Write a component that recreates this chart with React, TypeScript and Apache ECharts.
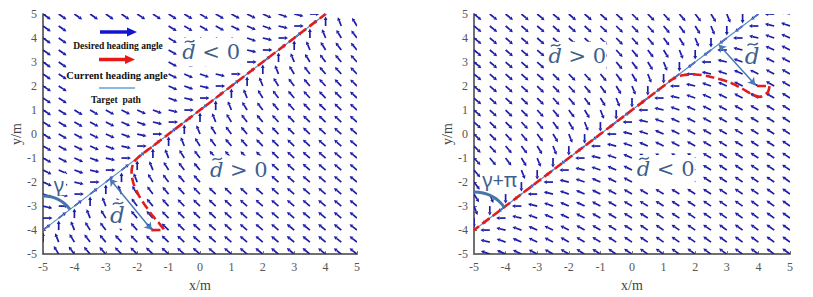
import React, { useEffect, useRef } from "react";
import * as echarts from "echarts";

// grid of sample points of the vector field (both axes)
const gridValues = [-5, -4.5, -4, -3.5, -3, -2.5, -2, -1.5, -1, -0.5, 0, 0.5, 1, 1.5, 2, 2.5, 3, 3.5, 4, 4.5, 5];
const tickLabels = ["-5", "-4", "-3", "-2", "-1", "0", "1", "2", "3", "4", "5"];
// deviation (deg) of the desired heading from the path heading, per half-step diagonal offset from the path
const deviationDeg = [0, 45, 62, 70, 75, 78, 80, 82, 83, 84, 85, 86, 86, 87, 87, 87, 88, 88, 88, 88, 89, 89, 89];
const leftPathHeading = 45;
const rightPathHeading = 225;
const targetPath = [[-5, -4], [4, 5]];
const leftTrajectory = [
  [-1.55, -4.0], [-1.15, -3.98], [-1.3, -3.72], [-1.5, -3.42], [-1.72, -3.02], [-1.95, -2.55],
  [-2.12, -2.05], [-2.18, -1.6], [-2.12, -1.2], [-1.95, -0.95], [-1.5, -0.5], [-1, 0], [0, 1],
  [1, 2], [2, 3], [3, 4], [4, 5],
];
const rightTrajectory = [
  [3.95, 2.0], [4.35, 2.0], [4.3, 1.75], [4.05, 1.55], [3.8, 1.65], [3.5, 1.88], [3.1, 2.15],
  [2.5, 2.38], [2.0, 2.48], [1.6, 2.45], [1.3, 2.3], [1.0, 2.0], [0, 1], [-1, 0], [-2, -1],
  [-3, -2], [-4, -3], [-5, -4],
];
const leftOffsetArrow = [[-2.87, -1.87], [-1.54, -3.99]];
const rightOffsetArrow = [[2.75, 3.72], [3.9, 2.05]];

const leftNotes = [
  { x: 0.33, y: 3.42, kind: "big", rest: "< 0" },
  { x: 1.21, y: -1.48, kind: "big", rest: "> 0" },
  { x: -2.64, y: -3.36, kind: "d", rest: "" },
  { x: -4.49, y: -2.09, kind: "g", rest: "\u03b3" },
];
const rightNotes = [
  { x: -1.76, y: 3.26, kind: "big", rest: "> 0" },
  { x: 1.04, y: -1.46, kind: "big", rest: "< 0" },
  { x: 3.79, y: 3.26, kind: "d", rest: "" },
  { x: -4.19, y: -1.91, kind: "g", rest: "\u03b3+\u03c0" },
];

const ARROW = "#1c1ca8";
const NOTE = "#3d5f8c";
const PATHC = "#4f8cc9";

function buildField(heading: number, sideSign: number) {
  const b = targetPath[0][1] - targetPath[0][0];
  const out: number[][] = [];
  for (const x of gridValues) {
    for (const y of gridValues) {
      const k = Math.round(2 * (x - y + b));
      const dev = deviationDeg[Math.min(Math.abs(k), deviationDeg.length - 1)];
      out.push([x, y, heading + sideSign * Math.sign(k) * dev]);
    }
  }
  return out;
}

function quiverSeries(idx: number, data: number[][]) {
  return {
    type: "custom",
    xAxisIndex: idx,
    yAxisIndex: idx,
    clip: true,
    z: 2,
    data,
    renderItem: (params: any, api: any) => {
      const x = api.value(0);
      const y = api.value(1);
      const a = (api.value(2) * Math.PI) / 180;
      const p0 = api.coord([x, y]);
      const pd = api.coord([x + 0.1 * Math.cos(a), y + 0.1 * Math.sin(a)]);
      const dx = pd[0] - p0[0];
      const dy = pd[1] - p0[1];
      const len = Math.hypot(dx, dy) || 1;
      const ux = dx / len;
      const uy = dy / len;
      const L = 9.5;
      const p1 = [p0[0] + ux * L, p0[1] + uy * L];
      const hl = 3.4;
      const hw = 1.9;
      const base = [p1[0] - ux * hl, p1[1] - uy * hl];
      return {
        type: "group",
        children: [
          {
            type: "line",
            shape: { x1: p0[0], y1: p0[1], x2: base[0], y2: base[1] },
            style: { stroke: ARROW, lineWidth: 1.7 },
          },
          {
            type: "polygon",
            shape: {
              points: [p1, [base[0] - uy * hw, base[1] + ux * hw], [base[0] + uy * hw, base[1] - ux * hw]],
            },
            style: { fill: ARROW },
          },
        ],
      };
    },
  };
}

function arcSeries(idx: number, radius: number) {
  return {
    type: "custom",
    xAxisIndex: idx,
    yAxisIndex: idx,
    clip: false,
    z: 6,
    data: [targetPath[0]],
    renderItem: (params: any, api: any) => {
      const c = api.coord(targetPath[0]);
      const e = api.coord(targetPath[1]);
      const ang = Math.atan2(e[1] - c[1], e[0] - c[0]);
      return {
        type: "arc",
        shape: { cx: c[0], cy: c[1], r: radius, startAngle: -Math.PI / 2, endAngle: ang, clockwise: true },
        style: { stroke: "#4676a8", lineWidth: 3, fill: "none" },
      };
    },
  };
}

function notesSeries(idx: number, notes: any[]) {
  return {
    type: "custom",
    xAxisIndex: idx,
    yAxisIndex: idx,
    clip: false,
    z: 8,
    data: notes.map((n, i) => [n.x, n.y, i]),
    renderItem: (params: any, api: any) => {
      const n = notes[api.value(2)];
      const p = api.coord([api.value(0), api.value(1)]);
      const children: any[] = [];
      const italic = (x: number, y: number, size: number) => {
        const s = size / 21;
        const a = x + 2.5 * s;
        const y0 = y - 10.5 * s;
        return [
          {
            type: "text",
            x,
            y,
            style: {
              text: "d",
              font: `italic ${size}px 'DejaVu Serif'`,
              fill: NOTE,
              align: "left",
              verticalAlign: "middle",
            },
          },
          {
            type: "bezierCurve",
            shape: {
              x1: a,
              y1: y0 + 1.2 * s,
              cpx1: a + 3 * s,
              cpy1: y0 - 3.2 * s,
              cpx2: a + 6 * s,
              cpy2: y0 + 3.4 * s,
              x2: a + 9.5 * s,
              y2: y0 - 1.2 * s,
            },
            style: { stroke: NOTE, lineWidth: 1.4, fill: "none" },
          },
        ];
      };
      if (n.kind === "big") {
        const W = 56;
        const left = p[0] - W / 2;
        children.push({ type: "rect", shape: { x: left - 2, y: p[1] - 14, width: W + 4, height: 28 }, style: { fill: "#ffffff" } });
        children.push(...italic(left, p[1], 21));
        children.push({
          type: "text",
          x: left + 20,
          y: p[1],
          style: { text: n.rest, font: "21px 'DejaVu Serif'", fill: NOTE, align: "left", verticalAlign: "middle" },
        });
      } else if (n.kind === "d") {
        children.push({ type: "rect", shape: { x: p[0] - 9, y: p[1] - 15, width: 18, height: 29 }, style: { fill: "#ffffff" } });
        children.push(...italic(p[0] - 7, p[1], 23));
      } else {
        const W = n.rest.length > 1 ? 36 : 14;
        children.push({ type: "rect", shape: { x: p[0] - W / 2, y: p[1] - 11, width: W, height: 22 }, style: { fill: "#ffffff" } });
        children.push({
          type: "text",
          x: p[0],
          y: p[1],
          style: { text: n.rest, font: "20px 'Noto Sans'", fill: NOTE, align: "center", verticalAlign: "middle" },
        });
      }
      return { type: "group", children };
    },
  };
}

function axisCommon(i: number, name: string, isY: boolean) {
  return {
    gridIndex: i,
    type: "value",
    min: -5,
    max: 5,
    interval: 1,
    name,
    nameLocation: "middle",
    nameGap: isY ? 19 : 21,
    nameTextStyle: { fontFamily: "Liberation Serif", fontSize: 14, color: "#444" },
    axisLine: { show: true, onZero: false, lineStyle: { color: "#707070", width: 2 } },
    axisTick: { show: true, inside: true, length: 3, lineStyle: { color: "#707070" } },
    splitLine: { show: false },
    axisLabel: {
      fontFamily: "Liberation Serif",
      fontSize: 12,
      color: "#555",
      margin: isY ? 6 : 7,
      formatter: (v: number, k: number) => tickLabels[k] ?? String(v),
    },
  };
}

export default function App() {
  const ref = useRef<HTMLDivElement>(null);
  useEffect(() => {
    if (!ref.current) return;
    const chart = echarts.init(ref.current, null, { renderer: "svg" });
    const legendFont = "bold 9.5px 'Liberation Serif'";
    chart.setOption({
      animation: false,
      backgroundColor: "#ffffff",
      grid: [
        { left: 43, top: 14, width: 314, height: 244 },
        { left: 474, top: 14, width: 316, height: 244 },
      ],
      xAxis: [axisCommon(0, "x/m", false), axisCommon(1, "x/m", false)],
      yAxis: [axisCommon(0, "y/m", true), axisCommon(1, "y/m", true)],
      series: [
        quiverSeries(0, buildField(leftPathHeading, 1)),
        quiverSeries(1, buildField(rightPathHeading, -1)),
        ...[0, 1].map((i) => ({
          type: "line",
          xAxisIndex: i,
          yAxisIndex: i,
          data: targetPath,
          symbol: "none",
          z: 3,
          lineStyle: { color: PATHC, width: 1.1 },
        })),
        {
          type: "line",
          xAxisIndex: 0,
          yAxisIndex: 0,
          data: leftTrajectory,
          symbol: "none",
          smooth: 0.3,
          z: 4,
          lineStyle: { color: "#e01e1e", width: 2.6, type: [9, 4] },
        },
        {
          type: "line",
          xAxisIndex: 1,
          yAxisIndex: 1,
          data: rightTrajectory,
          symbol: "none",
          smooth: 0.3,
          z: 4,
          lineStyle: { color: "#e01e1e", width: 2.6, type: [9, 4] },
        },
        ...[
          [0, leftOffsetArrow],
          [1, rightOffsetArrow],
        ].map(([i, c]: any) => ({
          type: "lines",
          coordinateSystem: "cartesian2d",
          xAxisIndex: i,
          yAxisIndex: i,
          z: 7,
          symbol: ["arrow", "arrow"],
          symbolSize: 7,
          lineStyle: { color: "#4a7ab5", width: 1.5, opacity: 1 },
          data: [{ coords: c }],
        })),
        arcSeries(0, 34),
        arcSeries(1, 38),
        notesSeries(0, leftNotes),
        notesSeries(1, rightNotes),
      ],
      graphic: [
        { type: "rect", z: 100, shape: { x: 68, y: 21, width: 98, height: 88 }, style: { fill: "#ffffff" } },
        { type: "line", z: 101, shape: { x1: 100, y1: 32, x2: 128, y2: 32 }, style: { stroke: "#1515d0", lineWidth: 3.5 } },
        { type: "polygon", z: 101, shape: { points: [[137, 32], [127, 27.5], [127, 36.5]] }, style: { fill: "#1515d0" } },
        { type: "text", z: 101, x: 118, y: 45.5, style: { text: "Desired heading angle", font: legendFont, fill: "#111", align: "center", verticalAlign: "middle" } },
        { type: "line", z: 101, shape: { x1: 99, y1: 59.5, x2: 126, y2: 59.5 }, style: { stroke: "#e81818", lineWidth: 3.5 } },
        { type: "polygon", z: 101, shape: { points: [[135, 59.5], [125, 55], [125, 64]] }, style: { fill: "#e81818" } },
        { type: "text", z: 101, x: 117, y: 75, style: { text: "Current heading angle", font: "bold 10.5px 'Liberation Serif'", fill: "#111", align: "center", verticalAlign: "middle" } },
        { type: "line", z: 101, shape: { x1: 99, y1: 88, x2: 135, y2: 88 }, style: { stroke: "#5fa3d6", lineWidth: 1.5 } },
        { type: "text", z: 101, x: 116, y: 99.5, style: { text: "Target  path", font: legendFont, fill: "#111", align: "center", verticalAlign: "middle" } },
      ],
    });
    return () => chart.dispose();
  }, []);
  return <div ref={ref} style={{ width: 813, height: 297, position: "absolute", left: 0, top: 0 }} />;
}
